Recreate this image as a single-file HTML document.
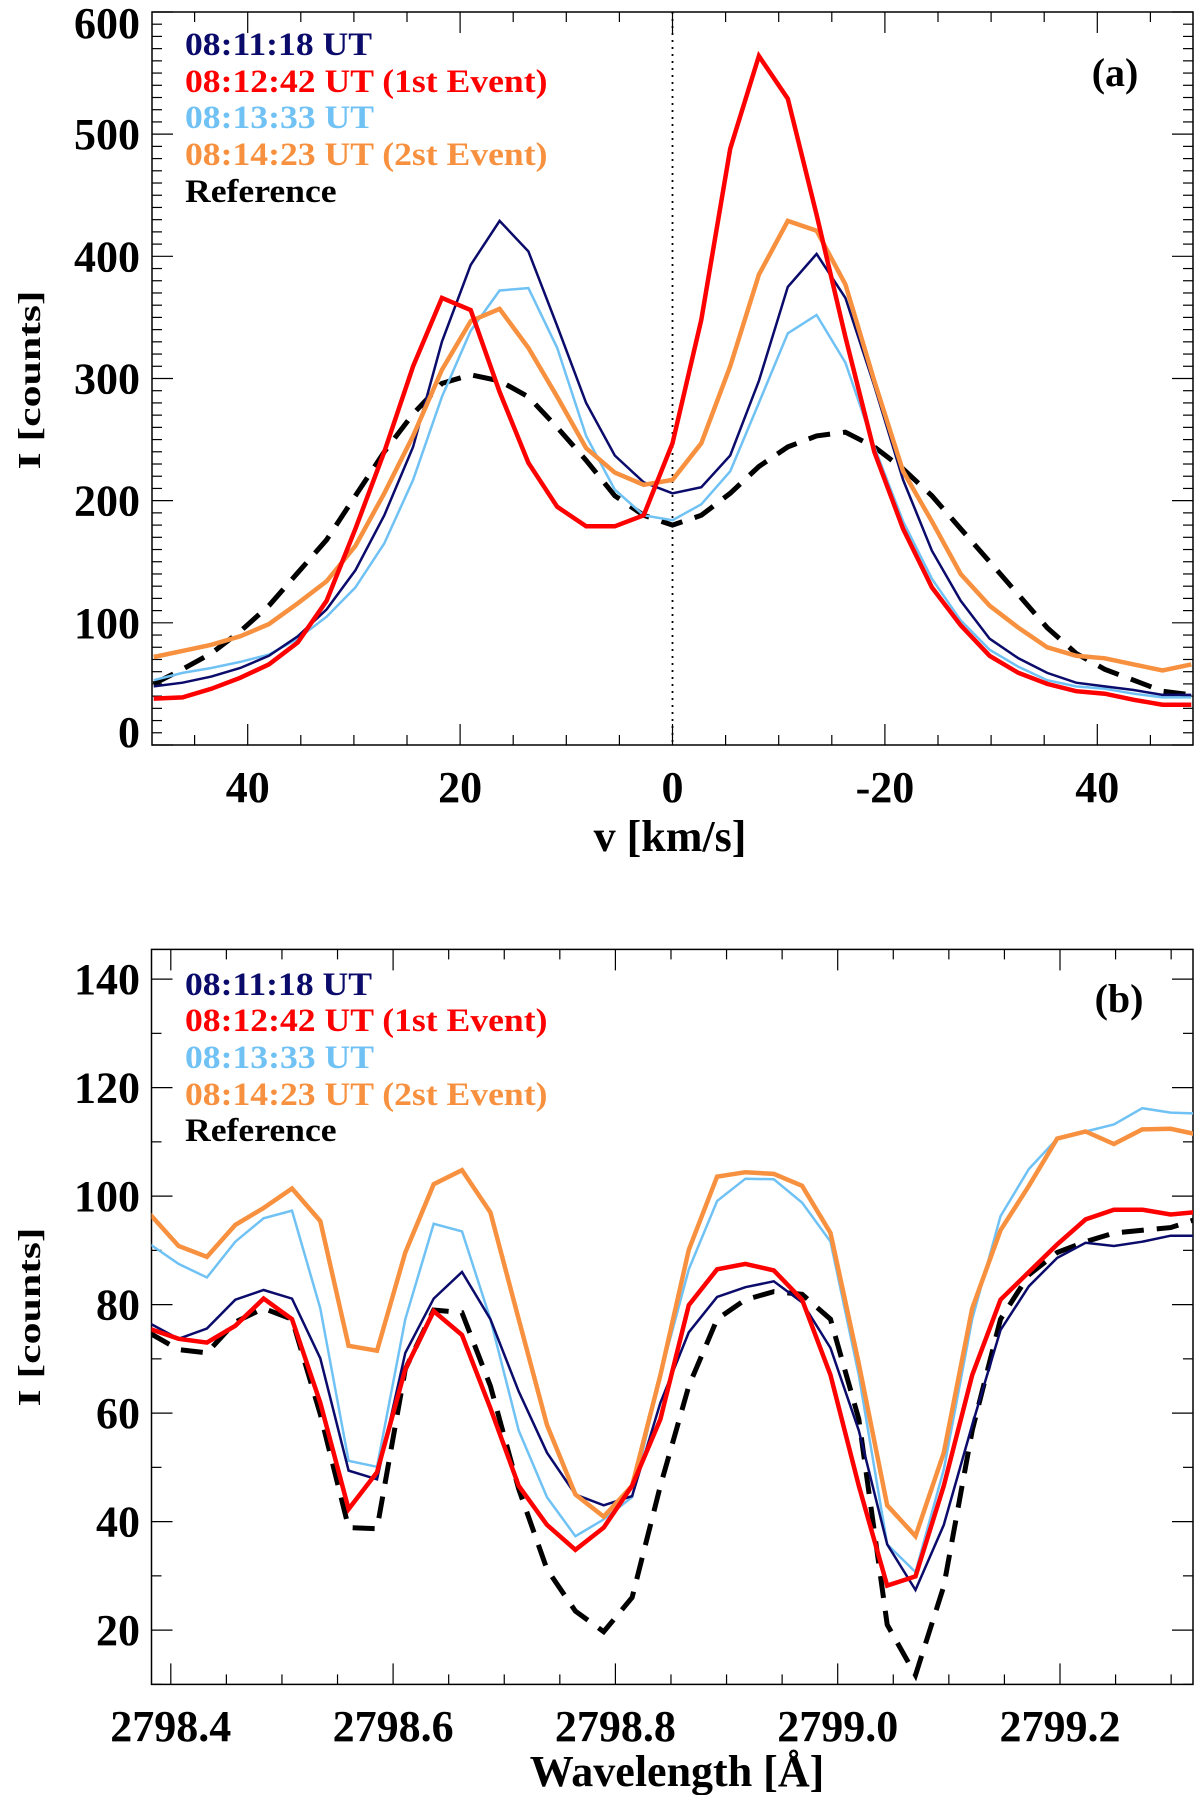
<!DOCTYPE html>
<html><head><meta charset="utf-8"><style>
html,body{margin:0;padding:0;background:#fff;}
svg{display:block;font-family:"Liberation Serif",serif;font-weight:bold;}
</style></head><body>
<svg id="fig" width="1200" height="1795" viewBox="0 0 1200 1795">
<defs>
<clipPath id="clipA"><rect x="152" y="12" width="1041" height="733"/></clipPath>
<clipPath id="clipB"><rect x="151.5" y="949.4" width="1041.5" height="735"/></clipPath>
</defs>
<g id="panelA"></g>
<g id="panelB"></g>
</svg>
<script>
// ---- Panel (a) data ----
const velA = [48.85,46.14,43.43,40.71,38.0,35.28,32.57,29.86,27.14,24.43,21.71,19.0,16.28,13.57,10.86,8.14,5.43,2.71,0,-2.71,-5.43,-8.14,-10.86,-13.57,-16.28,-19.0,-21.71,-24.43,-27.14,-29.86,-32.57,-35.28,-38.0,-40.71,-43.43,-46.14,-48.85];
const navyA = [48,51,56,63,73,89,111,143,188,244,330,393,429,404,343,280,237,215,206,211,237,298,375,402,366,294,217,159,118,87,71,59,51,48,45,41,41];
const redA = [38,39,46,55,66,84,118,177,240,310,366,356,289,231,195,179,179,188,247,348,488,564,529,434,334,240,177,129,98,73,59,50,44,42,37,33,33];
const lblueA = [53,59,63,68,74,87,105,129,165,217,285,339,372,374,325,253,209,188,184,197,224,280,337,352,313,244,183,136,102,78,64,53,48,46,42,39,39];
const orangeA = [72,77,82,89,99,116,134,163,206,253,307,347,357,325,285,243,223,213,217,247,310,385,429,421,377,298,224,183,140,114,96,80,73,71,66,61,66];
const refA = [50,62,75,93,114,141,168,204,240,271,296,303,298,285,260,233,204,188,180,188,206,228,244,253,256,244,226,204,177,150,123,96,75,62,53,44,41];
const yTicksA = [0,100,200,300,400,500,600];
const xTicksA = [40,20,0,-20,-40];
const xTickLabelsA = ["40","20","0","-20","40"];

// ---- Panel (b) data ----
const lamB = [2798.3815,2798.407,2798.4325,2798.458,2798.4835,2798.509,2798.5345,2798.56,2798.5855,2798.611,2798.6365,2798.662,2798.6875,2798.713,2798.7385,2798.764,2798.7895,2798.815,2798.8405,2798.866,2798.8915,2798.917,2798.9425,2798.968,2798.9935,2799.019,2799.0445,2799.07,2799.0955,2799.121,2799.1465,2799.172,2799.1975,2799.223,2799.2485,2799.274,2799.2995,2799.325];
const navyB = [76.5,73.7,75.6,80.9,82.7,81.1,70.1,49.4,47.8,71.1,81.1,86,77.3,64,52.7,45,43,44.7,61.9,74.9,81.4,83.2,84.3,80.4,72,56.8,35.8,27.4,39.4,57.8,75.3,83.4,88.6,91.4,90.8,91.6,92.7,92.7];
const redB = [75.5,73.7,73,76.1,81.1,77.3,61.9,42.3,49.1,68.1,78.8,74.4,60.9,46.6,39.4,34.8,38.9,46.6,58.9,79.9,86.5,87.5,86.3,80.9,67,46.6,28.2,29.9,46.6,67,80.9,86,91.1,95.7,97.5,97.5,96.6,97.1];
const lblueB = [91.1,87.5,85,91.6,95.9,97.3,79.3,51.2,50.1,77.3,94.9,93.5,77.3,56.8,44.5,37.3,40.4,44.5,67,86.5,99.1,103.2,103.1,98.8,91.6,67,35.8,30.7,49.6,77.3,96.3,105,110.6,111.9,113.2,116.2,115.4,115.2];
const orangeB = [96.6,90.8,88.8,94.7,97.8,101.4,95.4,72.4,71.5,89.6,102.2,104.8,97,77.3,57.8,45,40.9,46.6,67,90.1,103.6,104.4,104.1,101.9,93.2,69.1,43,37.3,52.7,79.3,93.7,101.9,110.6,111.9,109.6,112.3,112.4,111.3];
const refB = [74.7,71.7,71.1,76.8,79.3,77.3,59.8,38.9,38.7,68.1,79,78.5,65,46,31.2,23.5,19.7,26,46.6,65,77.3,80.9,82.4,81.9,77.3,58.9,21,11.7,28.1,56.8,77.3,85.5,89.6,91.6,93.2,93.7,94.2,95.9];
const yTicksB = [20,40,60,80,100,120,140];
const xTicksB = [2798.4,2798.6,2798.8,2799.0,2799.2];
const xTickLabelsB = ["2798.4","2798.6","2798.8","2799.0","2799.2"];

const legendLabels = ["08:11:18 UT","08:12:42 UT (1st Event)","08:13:33 UT","08:14:23 UT (2st Event)","Reference"];
const NS = "http://www.w3.org/2000/svg";
const COL = {navy:"#0b0b6b", red:"#ff0000", lblue:"#70c2f4", orange:"#f7913f", ref:"#000000"};

const A = {l:152, r:1193, t:12, b:745};
const B = {l:151.5, r:1193, t:949.4, b:1684.4};
function xa(v){ return 672.5 - v*10.62; }
function ya(i){ return 745 - i*1.2217; }
function xb(l){ return 170.8 + (l-2798.4)*1111.5; }
function yb(i){ return 1738.6 - i*5.425; }

function mk(tag, attrs, parent){
  const e = document.createElementNS(NS, tag);
  for (const k in attrs) e.setAttribute(k, attrs[k]);
  parent.appendChild(e);
  return e;
}
function txt(parent, s, x, y, size, anchor, fill, tf){
  const e = mk("text", {x:0, y:0, "font-size":size, "text-anchor":anchor, fill:fill,
    transform:"translate("+x+","+y+")"+(tf||"")}, parent);
  e.textContent = s;
  return e;
}
function series(parent, xs, ys, fx, fy, color, w, dash, clip, name){
  let d = "";
  for (let i=0;i<xs.length;i++) d += (i?"L":"M")+fx(xs[i]).toFixed(1)+","+fy(ys[i]).toFixed(1);
  const p = mk("path", {d:d, fill:"none", stroke:color, "stroke-width":w, "stroke-linejoin":"miter", "clip-path":"url(#"+clip+")"}, parent);
  if (dash) p.setAttribute("stroke-dasharray", dash);
  
  
  return p;
}

// ---------- Panel A ----------
(function(){
  const g = document.getElementById("panelA");
  const fr = mk("rect", {x:A.l, y:A.t, width:A.r-A.l, height:A.b-A.t, fill:"none", stroke:"#000", "stroke-width":1.5}, g);
  
  
  for (let v=0; v<=600; v+=10){
    const y = ya(v), len = (v%100===0)?21:10;
    mk("line",{x1:A.l,x2:A.l+len,y1:y,y2:y,stroke:"#000","stroke-width":1.2},g);
    mk("line",{x1:A.r,x2:A.r-len,y1:y,y2:y,stroke:"#000","stroke-width":1.2},g);
  }
  for (let v=-45; v<=45; v+=5){
    const x = xa(v), len = (v%20===0)?21:10;
    mk("line",{x1:x,x2:x,y1:A.b,y2:A.b-len,stroke:"#000","stroke-width":1.2},g);
    mk("line",{x1:x,x2:x,y1:A.t,y2:A.t+len,stroke:"#000","stroke-width":1.2},g);
  }
  yTicksA.forEach(v=>{
    let cy = Math.min(Math.max(ya(v), A.t+11), A.b-13);
    const t = txt(g, String(v), 140, cy+15, 44, "end", "#000", "");
    
    
  });
  xTicksA.forEach((v,i)=>{
    const t = txt(g, xTickLabelsA[i], xa(v), 802, 44, "middle", "#000", "");
    
    
  });
  const yt = txt(g, "I [counts]", 40, 380, 32, "middle", "#000", " rotate(-90) scale(1.37,1)");
  
  
  const xt = txt(g, "v [km/s]", 670, 851, 44, "middle", "#000", "");
  
  
  const pl = txt(g, "(a)", 1115, 86, 40, "middle", "#000", "");
  
  
  const zl = mk("line",{x1:xa(0),x2:xa(0),y1:A.t,y2:A.b,stroke:"#000","stroke-width":1.8,"stroke-dasharray":"2,5"},g);
  
  
  series(g, velA, refA, xa, ya, COL.ref, 5, "22,13", "clipA", "reference-line-a");
  series(g, velA, lblueA, xa, ya, COL.lblue, 2.5, null, "clipA", "line-081333-a");
  series(g, velA, navyA, xa, ya, COL.navy, 2.5, null, "clipA", "line-081118-a");
  series(g, velA, orangeA, xa, ya, COL.orange, 4.5, null, "clipA", "line-081423-a");
  series(g, velA, redA, xa, ya, COL.red, 4.5, null, "clipA", "line-081242-a");
  const cols = [COL.navy, COL.red, COL.lblue, COL.orange, COL.ref];
  const ys = [55, 92, 128, 165, 202];
  legendLabels.forEach((s,i)=>{
    const t = txt(g, s, 185, ys[i], 33, "start", cols[i], " scale(1.08,1)");
    
    
  });
})();

// ---------- Panel B ----------
(function(){
  const g = document.getElementById("panelB");
  const fr = mk("rect", {x:B.l, y:B.t, width:B.r-B.l, height:B.b-B.t, fill:"none", stroke:"#000", "stroke-width":1.5}, g);
  
  
  for (let v=10; v<=140; v+=10){
    const y = yb(v), len = (v%20===0)?21:10;
    mk("line",{x1:B.l,x2:B.l+len,y1:y,y2:y,stroke:"#000","stroke-width":1.2},g);
    mk("line",{x1:B.r,x2:B.r-len,y1:y,y2:y,stroke:"#000","stroke-width":1.2},g);
  }
  for (let k=0; k<=19; k++){
    const l = 2798.4 + k*0.05, x = xb(l), len = (k%4===0)?21:10;
    if (x > B.r) break;
    mk("line",{x1:x,x2:x,y1:B.b,y2:B.b-len,stroke:"#000","stroke-width":1.2},g);
    mk("line",{x1:x,x2:x,y1:B.t,y2:B.t+len,stroke:"#000","stroke-width":1.2},g);
  }
  yTicksB.forEach(v=>{
    const t = txt(g, String(v), 140, yb(v)+15, 44, "end", "#000", "");
    
    
  });
  xTicksB.forEach((v,i)=>{
    const t = txt(g, xTickLabelsB[i], xb(v), 1741, 44, "middle", "#000", "");
    
    
  });
  const yt = txt(g, "I [counts]", 40, 1317, 32, "middle", "#000", " rotate(-90) scale(1.37,1)");
  
  
  const xt = txt(g, "Wavelength [Å]", 677, 1786, 44, "middle", "#000", "");
  
  
  const pl = txt(g, "(b)", 1119, 1012, 40, "middle", "#000", "");
  
  
  series(g, lamB, refB, xb, yb, COL.ref, 5, "22,13", "clipB", "reference-line-b");
  series(g, lamB, lblueB, xb, yb, COL.lblue, 2.5, null, "clipB", "line-081333-b");
  series(g, lamB, navyB, xb, yb, COL.navy, 2.5, null, "clipB", "line-081118-b");
  series(g, lamB, orangeB, xb, yb, COL.orange, 4.5, null, "clipB", "line-081423-b");
  series(g, lamB, redB, xb, yb, COL.red, 4.5, null, "clipB", "line-081242-b");
  const cols = [COL.navy, COL.red, COL.lblue, COL.orange, COL.ref];
  const ys = [995, 1031, 1068, 1105, 1141];
  legendLabels.forEach((s,i)=>{
    const t = txt(g, s, 185, ys[i], 33, "start", cols[i], " scale(1.08,1)");
    
    
  });
})();
</script>
</body></html>
